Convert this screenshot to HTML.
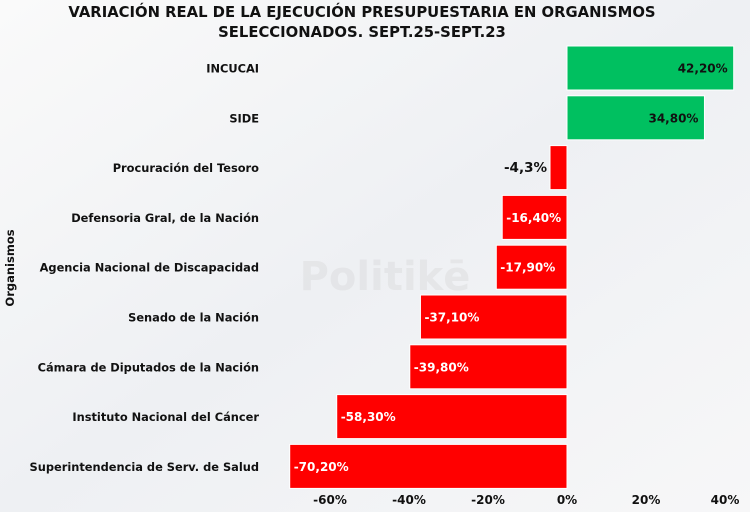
<!DOCTYPE html>
<html><head><meta charset="utf-8"><style>
body{margin:0;width:750px;height:512px;overflow:hidden;background:#f4f5f7;font-family:"DejaVu Sans","Liberation Sans",sans-serif;}
svg{display:block}
</style></head><body>
<svg width="750" height="512">
<defs><linearGradient id="bg" x1="0" y1="0" x2="1" y2="1"><stop offset="0" stop-color="#fafafa"/><stop offset="0.5" stop-color="#eef0f3"/><stop offset="1" stop-color="#f7f7f8"/></linearGradient></defs>
<rect width="750" height="512" fill="url(#bg)"/>
<text x="362" y="17" text-anchor="middle" font-size="14.8" font-weight="bold" fill="#111">VARIACIÓN REAL DE LA EJECUCIÓN PRESUPUESTARIA EN ORGANISMOS</text>
<text x="362" y="37" text-anchor="middle" font-size="14.8" font-weight="bold" fill="#111">SELECCIONADOS. SEPT.25-SEPT.23</text>
<text x="14" y="268" transform="rotate(-90 14 268)" text-anchor="middle" font-size="11.5" font-weight="bold" fill="#111">Organismos</text>
<text x="385" y="290" text-anchor="middle" font-size="40" font-weight="bold" fill="#dcdcde" opacity="0.5">Politikē</text>
<g id="bars"></g>
<g id="ticks"></g>
</svg>
<script>
const categories=["INCUCAI","SIDE","Procuración del Tesoro","Defensoria Gral, de la Nación","Agencia Nacional de Discapacidad","Senado de la Nación","Cámara de Diputados de la Nación","Instituto Nacional del Cáncer","Superintendencia de Serv. de Salud"];
const values=[42.2,34.8,-4.3,-16.4,-17.9,-37.1,-39.8,-58.3,-70.2];
const valueLabels=["42,20%","34,80%","-4,3%","-16,40%","-17,90%","-37,10%","-39,80%","-58,30%","-70,20%"];
const tickValues=[-60,-40,-20,0,20,40];
const tickLabels=["-60%","-40%","-20%","0%","20%","40%"];
const NS="http://www.w3.org/2000/svg";
const x=v=>567+v*3.95;
const rowTop=i=>46+i*49.8;
const bh=44;
const gb=document.getElementById('bars'),gt=document.getElementById('ticks');
function mk(tag,attrs,parent,txt){const e=document.createElementNS(NS,tag);for(const k in attrs)e.setAttribute(k,attrs[k]);if(txt!==undefined)e.textContent=txt;parent.appendChild(e);return e;}
categories.forEach((c,i)=>{
 const v=values[i],y=rowTop(i),x0=Math.min(x(0),x(v)),w=Math.abs(x(v)-x(0));
 const r=mk('rect',{x:x0,y:y,width:w,height:bh,fill:v>=0?'#00c060':'#ff0000',stroke:'#fff','stroke-width':1},gb);
 
 
 const l=mk('text',{x:259,y:y+bh/2+4.5,'text-anchor':'end','font-size':11.4,'font-weight':'bold',fill:'#111'},gb,c);
 
 
 let t;
 if(v>=0){t=mk('text',{x:x(v)-6,y:y+bh/2+4.5,'text-anchor':'end','font-size':12,'font-weight':'bold',fill:'#111'},gb,valueLabels[i]);}
 else if(w<40){t=mk('text',{x:x(v)-3,y:y+bh/2+4.5,'text-anchor':'end','font-size':13.5,'font-weight':'bold',fill:'#111'},gb,valueLabels[i]);}
 else{t=mk('text',{x:x(v)+4,y:y+bh/2+4.5,'text-anchor':'start','font-size':12,'font-weight':'bold',fill:'#fff'},gb,valueLabels[i]);}
 
 
});
tickValues.forEach((v,i)=>{
 const t=mk('text',{x:x(v),y:504,'text-anchor':'middle','font-size':12,'font-weight':'bold',fill:'#111'},gt,tickLabels[i]);
 
 
});
</script>
</body></html>
